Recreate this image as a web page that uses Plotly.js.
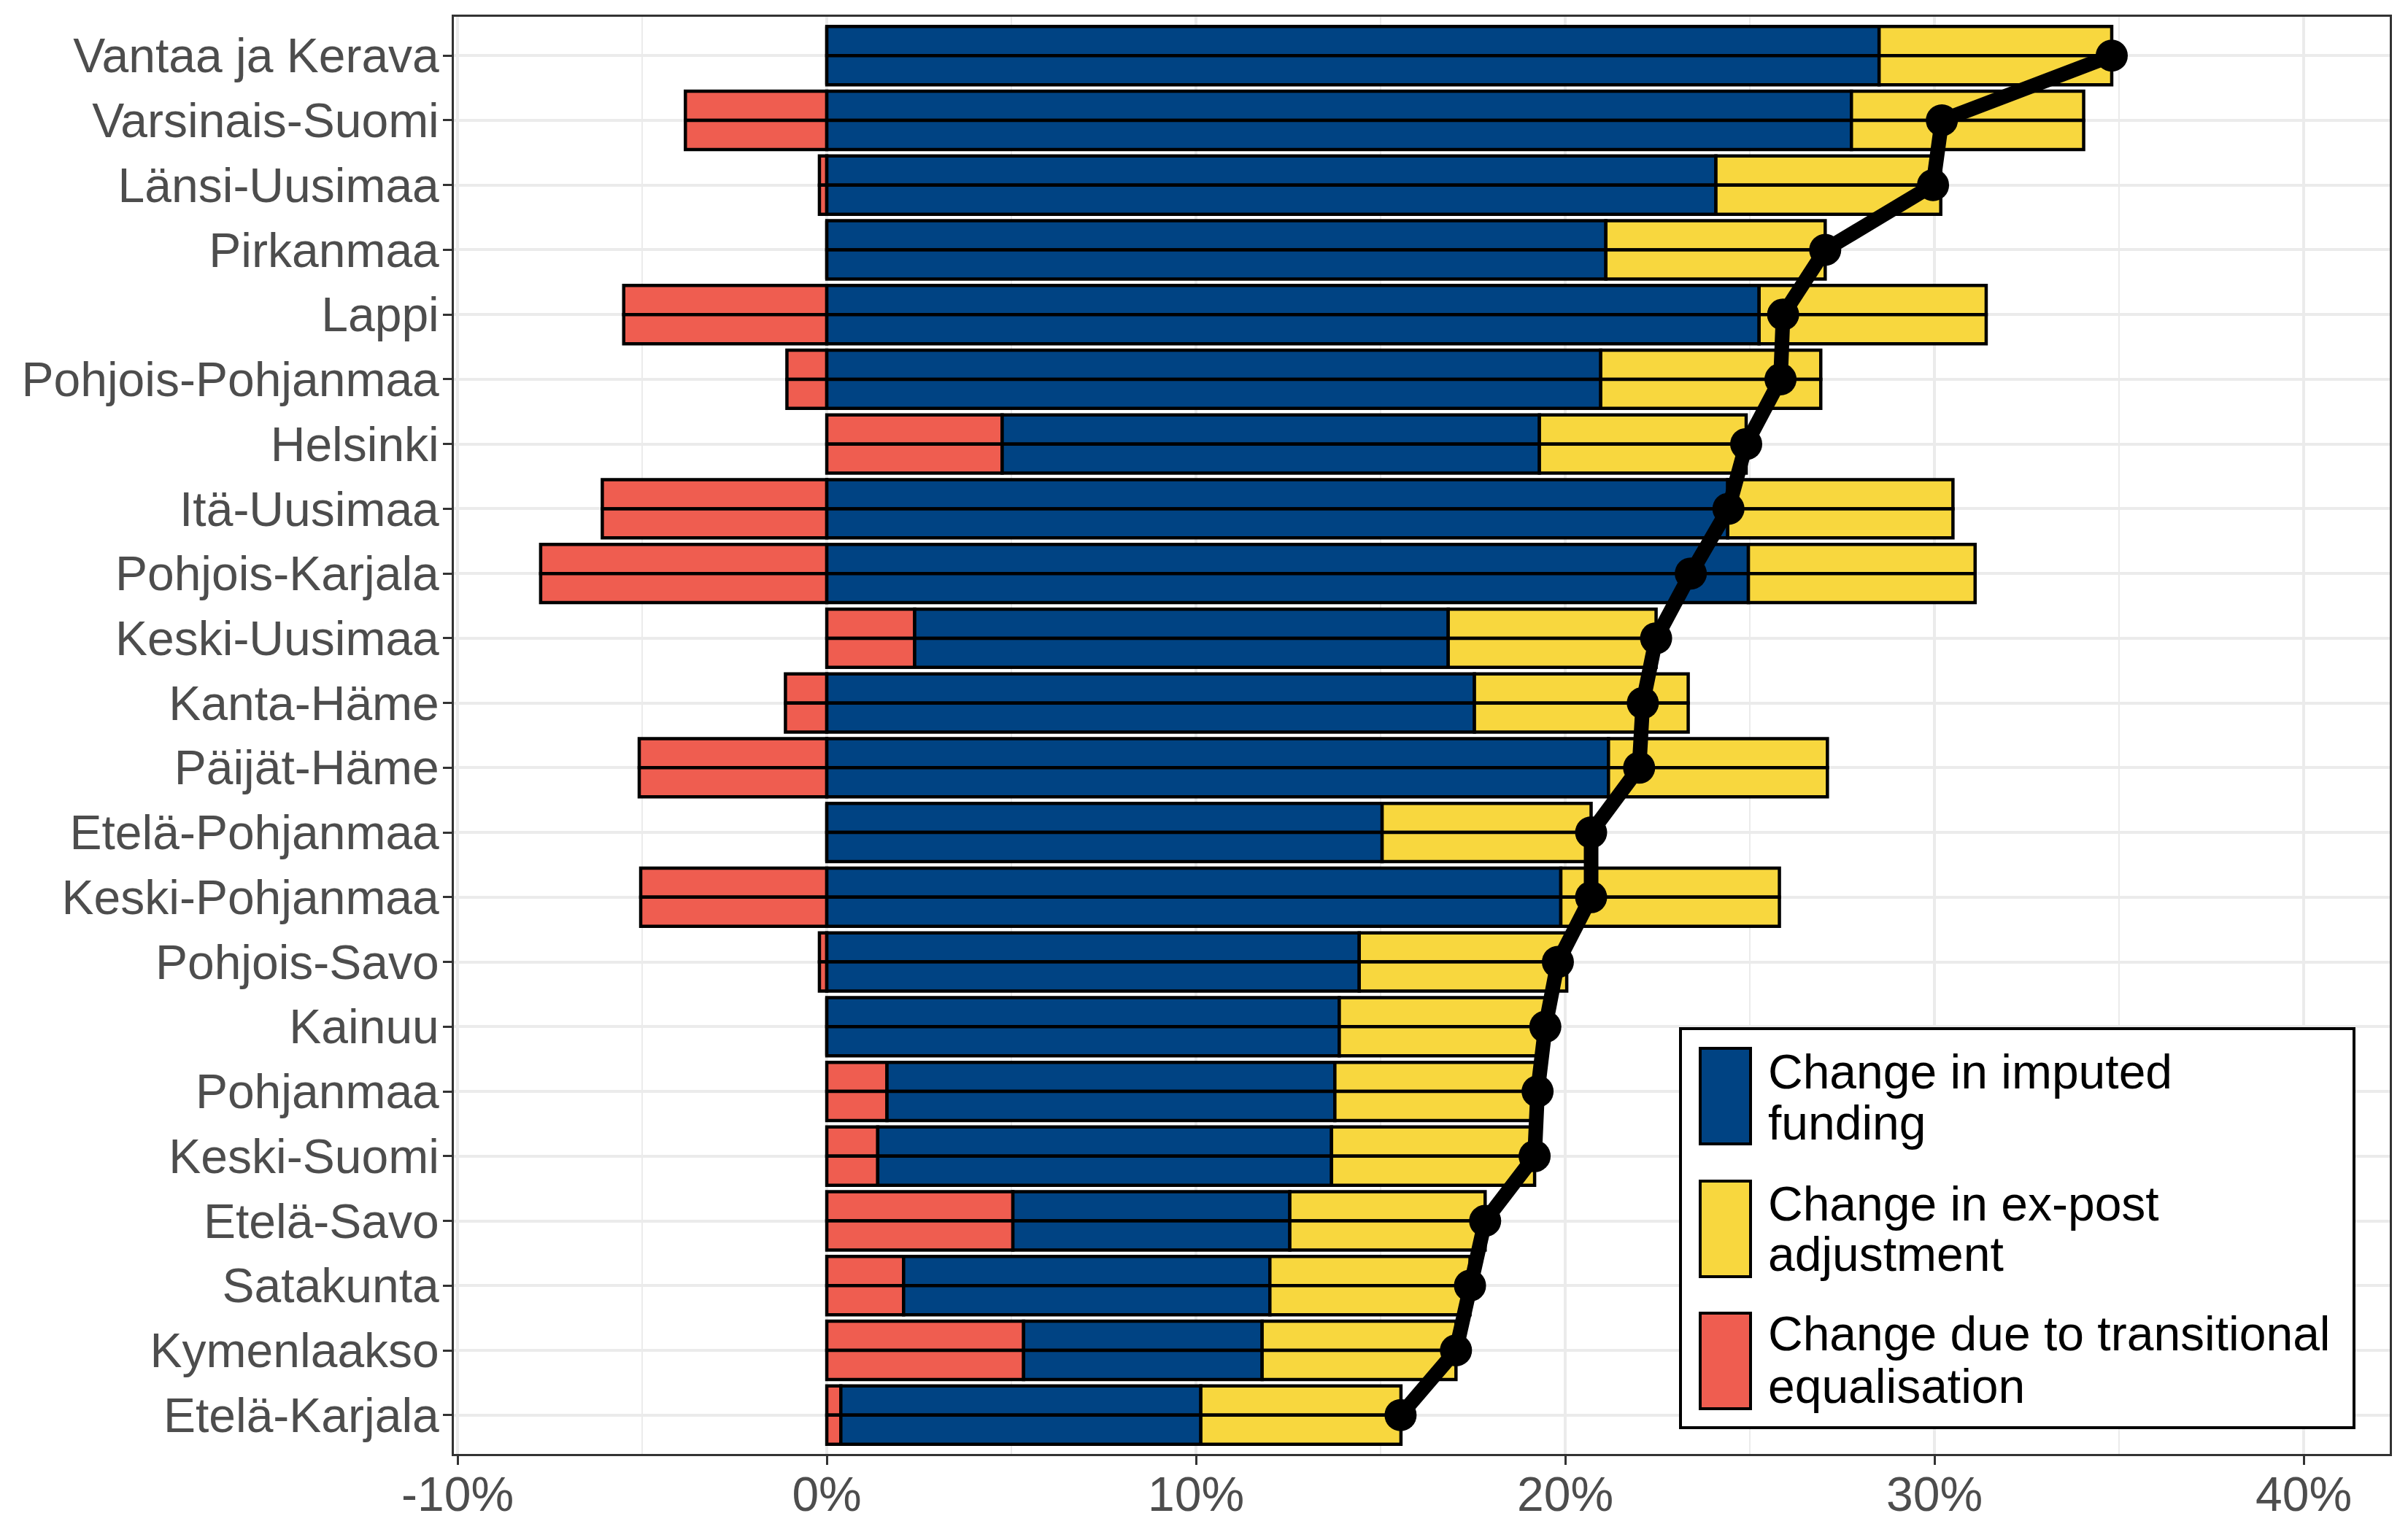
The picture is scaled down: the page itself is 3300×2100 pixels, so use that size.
<!DOCTYPE html>
<html>
<head>
<meta charset="utf-8">
<script src="https://cdn.plot.ly/plotly-3.0.1.min.js"></script>
<style>html,body{margin:0;padding:0;background:#fff;}#chart{width:3300px;height:2100px;}</style>
</head>
<body>
<div id="chart"></div>
<script>
// ---- data (percent) ----
const regions = ["Vantaa ja Kerava","Varsinais-Suomi","Länsi-Uusimaa","Pirkanmaa","Lappi","Pohjois-Pohjanmaa","Helsinki","Itä-Uusimaa","Pohjois-Karjala","Keski-Uusimaa","Kanta-Häme","Päijät-Häme","Etelä-Pohjanmaa","Keski-Pohjanmaa","Pohjois-Savo","Kainuu","Pohjanmaa","Keski-Suomi","Etelä-Savo","Satakunta","Kymenlaakso","Etelä-Karjala"];
const imputedFunding = [28.5, 27.75, 24.08, 21.1, 25.25, 20.96, 14.55, 24.4, 24.96, 14.45, 17.54, 21.17, 15.04, 19.88, 14.42, 13.88, 12.13, 12.29, 7.5, 9.92, 6.46, 9.75];
const expostAdjustment = [6.3, 6.29, 6.09, 5.94, 6.15, 5.96, 5.6, 6.1, 6.14, 5.63, 5.79, 5.93, 5.66, 5.92, 5.62, 5.58, 5.5, 5.5, 5.29, 5.42, 5.25, 5.42];
const transitional = [0, -3.83, -0.2, 0, -5.5, -1.08, 4.75, -6.08, -7.75, 2.38, -1.12, -5.08, 0, -5.04, -0.2, 0, 1.63, 1.38, 5.04, 2.08, 5.33, 0.38];
const totalChange = [34.8, 30.2, 29.96, 27.04, 25.9, 25.83, 24.9, 24.42, 23.4, 22.46, 22.1, 22.0, 20.7, 20.7, 19.8, 19.46, 19.25, 19.17, 17.83, 17.42, 17.04, 15.54];
const xTickVals = [-10, 0, 10, 20, 30, 40];
const xTickText = ["-10%", "0%", "10%", "20%", "30%", "40%"];
const legendLabels = [["Change in imputed", "funding"], ["Change in ex-post", "adjustment"], ["Change due to transitional", "equalisation"]];

// ---- styles ----
const BLUE = "#004383", YELLOW = "#F8D73E", RED = "#EF5D50";
const FONT = "Liberation Sans, Arial, Helvetica, sans-serif";
const FS = 66;

// stacking bases (positive parts stack after a positive transitional part)
const redBase = transitional.map(() => 0);
const blueBase = transitional.map(v => Math.max(v, 0));
const yellowBase = blueBase.map((b, i) => b + imputedFunding[i]);

const traces = [];
function addSeries(vals, bases, color) {
  [-0.45, 0].forEach(off => {
    traces.push({
      type: "bar", orientation: "h", y: regions, x: vals, base: bases,
      width: 0.45, offset: off,
      marker: {color: color, line: {color: "#000", width: 4.5}},
      showlegend: false, hoverinfo: "skip"
    });
  });
}
addSeries(transitional, redBase, RED);
addSeries(imputedFunding, blueBase, BLUE);
addSeries(expostAdjustment, yellowBase, YELLOW);
traces.push({
  type: "scatter", mode: "lines+markers", x: totalChange, y: regions,
  line: {color: "#000", width: 20}, marker: {color: "#000", size: 44},
  showlegend: false, hoverinfo: "skip"
});

// ---- legend drawn in paper coordinates ----
const L = 622, R = 3275, T = 23, B = 1993;
const px = x => (x - L) / (R - L);
const py = y => (B - y) / (B - T);
const shapes = [
  {type: "rect", xref: "paper", yref: "paper", x0: px(2303), x1: px(3226), y0: py(1957), y1: py(1410),
   line: {color: "#000", width: 4}, fillcolor: "#fff", layer: "above"}
];
const keyTops = [1437, 1619, 1800];
const keyColors = [BLUE, YELLOW, RED];
const lineCenters = [[1469, 1539], [1650, 1719], [1828, 1900]];
const annotations = [];
keyTops.forEach((t, i) => {
  shapes.push({type: "rect", xref: "paper", yref: "paper", x0: px(2330), x1: px(2399), y0: py(t + 131), y1: py(t),
    line: {color: "#000", width: 4}, fillcolor: keyColors[i], layer: "above"});
  legendLabels[i].forEach((txt, j) => {
    annotations.push({xref: "paper", yref: "paper", x: px(2421), y: py(lineCenters[i][j]),
      xanchor: "left", yanchor: "middle", text: txt, showarrow: false,
      font: {family: FONT, size: FS, color: "#000"}});
  });
});

const layout = {
  width: 3300, height: 2100,
  margin: {l: L, r: 3300 - R, t: T, b: 2100 - B, pad: 0},
  paper_bgcolor: "#fff", plot_bgcolor: "#fff",
  barmode: "overlay",
  font: {family: FONT, color: "#4d4d4d"},
  xaxis: {
    range: [-10.1, 42.33], tickvals: xTickVals, ticktext: xTickText,
    showgrid: true, gridcolor: "#ebebeb", gridwidth: 4, zeroline: false,
    minor: {dtick: 5, tick0: 0, showgrid: true, gridcolor: "#ebebeb", gridwidth: 2.5, ticklen: 0},
    showline: true, mirror: true, linecolor: "#333", linewidth: 3,
    ticks: "outside", ticklen: 12, tickwidth: 3, tickcolor: "#333",
    tickfont: {family: FONT, size: FS, color: "#4d4d4d"}, ticklabelstandoff: -16
  },
  yaxis: {
    type: "category", categoryorder: "array", categoryarray: regions,
    range: [21.6, -0.6],
    showgrid: true, gridcolor: "#ebebeb", gridwidth: 4, zeroline: false,
    showline: true, mirror: true, linecolor: "#333", linewidth: 3,
    ticks: "outside", ticklen: 12, tickwidth: 3, tickcolor: "#333",
    tickfont: {family: FONT, size: FS, color: "#4d4d4d"}, ticklabelstandoff: -8
  },
  shapes: shapes,
  annotations: annotations,
  showlegend: false
};

Plotly.newPlot("chart", traces, layout, {staticPlot: true, displayModeBar: false});
</script>
</body>
</html>
